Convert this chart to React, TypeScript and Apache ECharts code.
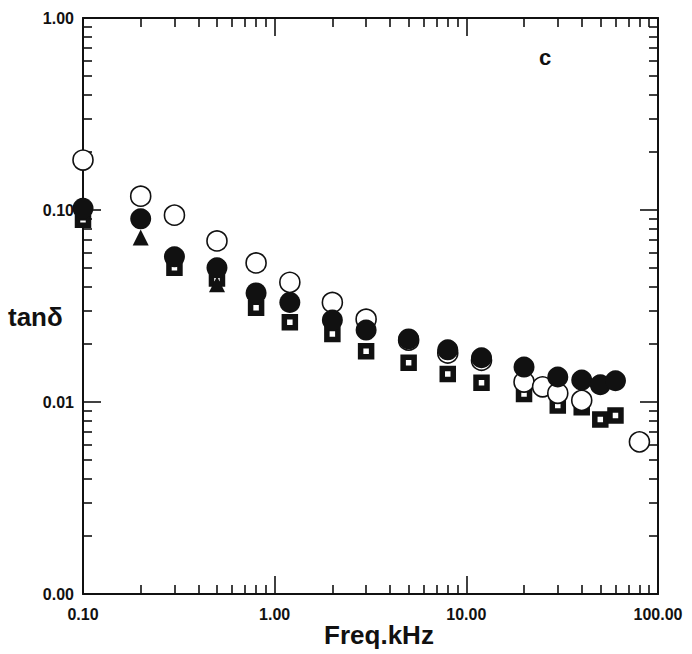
import React, { useEffect, useRef } from 'react';
import * as echarts from 'echarts';

// Frequencies (kHz) and tan delta values
const freqOpen = [0.1, 0.2, 0.3, 0.5, 0.8, 1.2, 2, 3, 5, 8, 12, 20, 25, 30, 40, 80];
const tanOpen = [0.182, 0.118, 0.094, 0.069, 0.053, 0.042, 0.033, 0.027, 0.021, 0.018, 0.0165, 0.0127, 0.012, 0.0111, 0.0102, 0.0062];

const freqFilled = [0.1, 0.2, 0.3, 0.5, 0.8, 1.2, 2, 3, 5, 8, 12, 20, 30, 40, 50, 60];
const tanFilled = [0.102, 0.09, 0.057, 0.05, 0.037, 0.033, 0.0267, 0.0237, 0.0213, 0.0187, 0.017, 0.0152, 0.0135, 0.013, 0.0123, 0.0129];

const freqSquare = [0.1, 0.3, 0.5, 0.8, 1.2, 2, 3, 5, 8, 12, 20, 30, 40, 50, 60];
const tanSquare = [0.089, 0.05, 0.044, 0.031, 0.026, 0.0226, 0.0184, 0.016, 0.014, 0.0126, 0.011, 0.0096, 0.0094, 0.0081, 0.0085];

const freqTri = [0.1, 0.2, 0.5];
const tanTri = [0.097, 0.072, 0.041];

const xMajor = [0.1, 1, 10, 100];
const xMinor = [0.2, 0.3, 0.4, 0.5, 0.6, 0.7, 0.8, 0.9, 2, 3, 4, 5, 6, 7, 8, 9, 20, 30, 40, 50, 60, 70, 80, 90];
const yMajor = [0.001, 0.01, 0.1, 1];
const yMinor = [0.002, 0.003, 0.004, 0.005, 0.006, 0.007, 0.008, 0.009, 0.02, 0.03, 0.04, 0.05, 0.06, 0.07, 0.08, 0.09, 0.2, 0.3, 0.4, 0.5, 0.6, 0.7, 0.8, 0.9];

const FONT = '"Liberation Sans", Arial, sans-serif';
const INK = '#111';

function zip(xs: number[], ys: number[]) {
  return xs.map((x, i) => [x, ys[i]]);
}

function makeAxis(kind: 'x' | 'y', position: string, ticks: number[], len: number, withLine: boolean, withLabel: boolean) {
  const isX = kind === 'x';
  return {
    type: 'log',
    logBase: 10,
    position,
    min: isX ? 0.1 : 0.001,
    max: isX ? 100 : 1,
    gridIndex: 0,
    axisLine: { show: withLine, onZero: false, lineStyle: { color: INK, width: 2 } },
    axisTick: {
      show: true,
      inside: true,
      length: len,
      customValues: ticks,
      lineStyle: { color: INK, width: 1.6 },
    },
    axisLabel: withLabel
      ? {
          show: true,
          customValues: isX ? xMajor : yMajor,
          formatter: (v: number) => Number(v).toFixed(2),
          color: INK,
          fontFamily: FONT,
          fontWeight: 'bold',
          fontSize: 16,
          margin: isX ? 12 : 9,
        }
      : { show: false },
    splitLine: { show: false },
    minorTick: { show: false },
    minorSplitLine: { show: false },
  };
}

export default function App() {
  const ref = useRef<HTMLDivElement>(null);
  useEffect(() => {
    if (!ref.current) return;
    const chart = echarts.init(ref.current, undefined, { renderer: 'svg' });
    chart.setOption({
      animation: false,
      backgroundColor: '#fff',
      grid: { left: 83, right: 34, top: 18, bottom: 60, containLabel: false, outerBoundsMode: 'none' },
      xAxis: [
        makeAxis('x', 'bottom', xMajor, 18, true, true),
        makeAxis('x', 'bottom', xMinor, 9, false, false),
        makeAxis('x', 'top', xMajor, 18, true, false),
        makeAxis('x', 'top', xMinor, 9, false, false),
      ],
      yAxis: [
        makeAxis('y', 'left', yMajor, 18, true, true),
        makeAxis('y', 'left', yMinor, 9, false, false),
        makeAxis('y', 'right', yMajor, 18, true, false),
        makeAxis('y', 'right', yMinor, 9, false, false),
      ],
      graphic: [
        {
          type: 'text',
          x: 8,
          y: 317,
          style: { text: 'tanδ', fontFamily: FONT, fontWeight: 'bold', fontSize: 26, fill: INK, align: 'left', verticalAlign: 'middle' },
        },
        {
          type: 'text',
          x: 379,
          y: 635,
          style: { text: 'Freq.kHz', fontFamily: FONT, fontWeight: 'bold', fontSize: 26, fill: INK, align: 'center', verticalAlign: 'middle' },
        },
        {
          type: 'text',
          x: 545,
          y: 57,
          style: { text: 'c', fontFamily: FONT, fontWeight: 'bold', fontSize: 22, fill: INK, align: 'center', verticalAlign: 'middle' },
        },
      ],
      series: [
        {
          name: 'squares',
          type: 'scatter',
          clip: false,
          symbol: 'rect',
          symbolSize: 11,
          itemStyle: { color: '#fff', borderColor: INK, borderWidth: 5.5, opacity: 1 },
          data: zip(freqSquare, tanSquare),
        },
        {
          name: 'triangles',
          type: 'scatter',
          clip: false,
          symbol: 'triangle',
          symbolSize: 16,
          itemStyle: { color: INK, opacity: 1 },
          data: zip(freqTri, tanTri),
        },
        {
          name: 'open circles',
          type: 'scatter',
          clip: false,
          symbol: 'circle',
          symbolSize: 20,
          itemStyle: { color: '#fff', borderColor: INK, borderWidth: 1.6, opacity: 1 },
          data: zip(freqOpen, tanOpen),
        },
        {
          name: 'filled circles',
          type: 'scatter',
          clip: false,
          symbol: 'circle',
          symbolSize: 21,
          itemStyle: { color: INK, opacity: 1 },
          data: zip(freqFilled, tanFilled),
        },
      ],
    });
    return () => chart.dispose();
  }, []);
  return <div ref={ref} style={{ width: 692, height: 654, position: 'absolute', left: 0, top: 0 }} />;
}
